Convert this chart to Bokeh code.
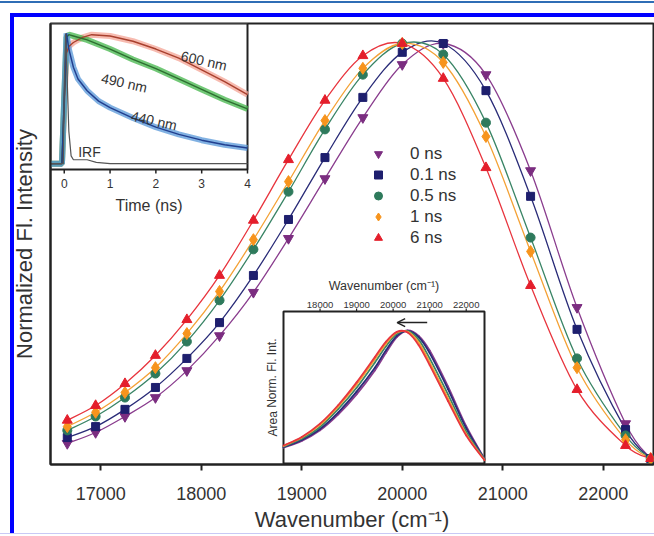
import math
from bokeh.plotting import figure
from bokeh.models import (Range1d, FixedTicker, Legend, LegendItem, Arrow, OpenHead)
from bokeh.core.properties import value
from bokeh.embed import file_html
from bokeh.resources import INLINE

# ---------------- data ----------------
WAVENUMBER = [16667, 16949, 17241, 17544, 17857, 18182, 18519, 18868, 19231,
              19608, 20000, 20408, 20833, 21277, 21739, 22222, 22472]
DELAYS = ["0 ns", "0.1 ns", "0.5 ns", "1 ns", "6 ns"]
NS0 = [0.050, 0.076, 0.114, 0.159, 0.223, 0.306, 0.409, 0.537, 0.679,
       0.824, 0.950, 1.000, 0.926, 0.698, 0.373, 0.097, 0.014]
NS01 = [0.064, 0.090, 0.131, 0.183, 0.252, 0.337, 0.449, 0.582, 0.729,
        0.872, 0.979, 1.000, 0.888, 0.637, 0.321, 0.083, 0.014]
NS05 = [0.081, 0.114, 0.159, 0.216, 0.292, 0.390, 0.511, 0.648, 0.796,
        0.926, 1.000, 0.974, 0.812, 0.539, 0.252, 0.069, 0.014]
NS1 = [0.090, 0.124, 0.171, 0.230, 0.311, 0.411, 0.534, 0.672, 0.817,
       0.941, 1.000, 0.955, 0.779, 0.506, 0.230, 0.059, 0.014]
NS6 = [0.105, 0.140, 0.192, 0.259, 0.344, 0.449, 0.580, 0.724, 0.865,
       0.971, 1.000, 0.917, 0.705, 0.425, 0.178, 0.045, 0.014]
MAIN_TICKS = [17000, 18000, 19000, 20000, 21000, 22000]

# inset 1: decays
T_600 = [-0.3, -0.05, 0.0, 0.05, 0.1, 0.2, 0.4, 0.6, 1.0, 1.5, 2.0, 2.5, 3.0, 3.5, 4.0]
I_600 = [0.0, 0.0, 0.45, 0.85, 0.90, 0.93, 0.97, 0.99, 0.98, 0.94, 0.88, 0.81, 0.72, 0.63, 0.53]
T_490 = [-0.3, -0.05, 0.0, 0.05, 0.1, 0.2, 0.5, 1.0, 1.5, 2.0, 2.5, 3.0, 3.5, 4.0]
I_490 = [0.0, 0.0, 0.5, 0.97, 0.99, 0.98, 0.95, 0.88, 0.80, 0.73, 0.65, 0.57, 0.49, 0.42]
T_440 = [-0.3, -0.05, 0.0, 0.05, 0.1, 0.2, 0.3, 0.5, 0.75, 1.0, 1.5, 2.0, 2.5, 3.0, 3.5, 4.0]
I_440 = [0.0, 0.0, 0.5, 1.0, 0.88, 0.74, 0.65, 0.56, 0.48, 0.43, 0.35, 0.28, 0.225, 0.18, 0.145, 0.12]
T_IRF = [-0.3, -0.02, 0.0, 0.03, 0.06, 0.1, 0.15, 0.2, 0.3, 0.5, 0.7, 1.0, 4.0]
I_IRF = [0.0, 0.0, 0.6, 1.0, 0.7, 0.25, 0.06, 0.03, 0.03, 0.03, 0.01, 0.0, 0.0]
TIME_TICKS = [0, 1, 2, 3, 4]
INSET1_LABELS = ["600 nm", "490 nm", "440 nm", "IRF"]
INSET1_LABEL_T = [3.05, 1.31, 1.96, 0.55]
INSET1_LABEL_V = [0.79, 0.62, 0.33, 0.09]
INSET1_LABEL_ANGLE = [-0.22, -0.22, -0.22, 0.0]

# inset 2: area-normalized spectra
WN2 = [17000, 17500, 18000, 18500, 19000, 19500, 19800, 20100, 20400, 20700,
       21000, 21500, 22000, 22500]
A0 = [0.120, 0.170, 0.250, 0.370, 0.520, 0.700, 0.830, 0.950, 1.000, 0.960,
      0.850, 0.580, 0.280, 0.035]
A01 = [0.123, 0.178, 0.260, 0.385, 0.540, 0.720, 0.850, 0.960, 0.998, 0.950,
       0.830, 0.560, 0.265, 0.033]
A05 = [0.128, 0.187, 0.275, 0.410, 0.570, 0.760, 0.880, 0.975, 0.995, 0.930,
       0.790, 0.520, 0.240, 0.030]
A1 = [0.132, 0.195, 0.290, 0.430, 0.595, 0.785, 0.900, 0.985, 0.990, 0.910,
      0.760, 0.490, 0.220, 0.027]
A6 = [0.135, 0.200, 0.300, 0.440, 0.610, 0.800, 0.915, 0.990, 0.985, 0.890,
      0.740, 0.470, 0.210, 0.025]
INSET2_TICKS = [18000, 19000, 20000, 21000, 22000]
ARROW_X = (20932, 20110)
ARROW_Y = 1.06

# ---------------- style / geometry ----------------
FONT = "Liberation Sans"
TXT = "#333333"
AX = "#222222"
MARKERS = ["inverted_triangle", "square", "circle", "diamond", "triangle"]
MSIZE = [10, 8, 9, 12, 10]
MCOL = ["#7B2D80", "#1E1F6E", "#2E7A5C", "#F7941D", "#E41E2B"]
LCOL = ["#8A3D8E", "#2A2C78", "#3A8566", "#F4A236", "#E8353E"]

W, H = 654, 536
BL, BR, BT, BB = 50, 1, 23, 72
FW = W - BL - BR
FH = H - BT - BB

X_MAIN = (16500, 22500)
Y_MAIN = (0.0, 1.0475)

# inset boxes (pixels from frame left / top)
I1_L, I1_R, I1_T, I1_B = 0, 197, 0, 146
I1_X = (-0.3, 4.0)
I1_Y = (-0.045, 1.076)
I2_L, I2_R, I2_T, I2_B = 233, 434, 288, 440
I2_X = (17000, 22500)
I2_Y = (0.0, 1.143)


def xrange_for(d, pl, pr):
    s = (d[1] - d[0]) / (pr - pl)
    start = d[0] - pl * s
    return Range1d(start, start + FW * s), s


def yrange_for(d, pt, pb):
    s = (d[1] - d[0]) / (pb - pt)
    end = d[1] + pt * s
    return Range1d(end - FH * s, end), s


def smooth(fig, xs, ys, **kw):
    """Draw a smooth curve through the points with Bokeh's bezier glyph."""
    n = len(xs)
    x0, y0, x1, y1, cx0, cy0, cx1, cy1 = ([] for _ in range(8))
    for i in range(n - 1):
        a, d = max(i - 1, 0), min(i + 2, n - 1)
        x0.append(xs[i]); y0.append(ys[i]); x1.append(xs[i + 1]); y1.append(ys[i + 1])
        cx0.append(xs[i] + (xs[i + 1] - xs[a]) / 6); cy0.append(ys[i] + (ys[i + 1] - ys[a]) / 6)
        cx1.append(xs[i + 1] - (xs[d] - xs[i]) / 6); cy1.append(ys[i + 1] - (ys[d] - ys[i]) / 6)
    return fig.bezier(x0=x0, y0=y0, x1=x1, y1=y1, cx0=cx0, cy0=cy0, cx1=cx1, cy1=cy1,
                      line_cap="round", **kw)


p = figure(width=W, height=H, x_range=Range1d(*X_MAIN), y_range=Range1d(*Y_MAIN),
           output_backend="svg", toolbar_location=None,
           min_border_left=BL, min_border_right=BR, min_border_top=BT,
           min_border_bottom=BB, background_fill_color="white",
           border_fill_alpha=0)

# decorative journal frame, painted on the page body behind the transparent border
FRAME_CSS = (
    "html, body { background-color: #ffffff; }\n"
    "body { box-shadow: inset 0 1px 0 0 #ffffff, inset 0 3px 0 0 #2F6DB5, "
    "inset 0 -2px 0 0 #ffffff, inset 0 -3px 0 0 #C9C9F5, "
    "inset 10px 13px 0 0 #ffffff, inset 14px 17px 0 0 #0000FF; }"
)
try:
    from bokeh.models import GlobalInlineStyleSheet
    p.stylesheets = [GlobalInlineStyleSheet(css=FRAME_CSS)]
except Exception:
    pass

p.grid.visible = False
p.outline_line_color = AX
p.outline_line_width = 2

r1x, s1x = xrange_for(I1_X, I1_L, I1_R)
r1y, s1y = yrange_for(I1_Y, I1_T, I1_B)
r2x, s2x = xrange_for(I2_X, I2_L, I2_R)
r2y, s2y = yrange_for(I2_Y, I2_T, I2_B)
p.extra_x_ranges = {"i1": r1x, "i2": r2x}
p.extra_y_ranges = {"i1": r1y, "i2": r2y}

# axes
xa = p.xaxis[0]
xa.ticker = FixedTicker(ticks=MAIN_TICKS)
xa.axis_label = "Wavenumber (cm\u207b\u00b9)"
xa.axis_label_text_font = FONT
xa.axis_label_text_font_style = "normal"
xa.axis_label_text_font_size = "22px"
xa.axis_label_text_color = TXT
xa.axis_label_standoff = 4
xa.major_label_text_font = FONT
xa.major_label_text_font_size = "18px"
xa.major_label_text_color = TXT
xa.major_label_standoff = 16
xa.major_tick_out = 6
xa.major_tick_in = 0
xa.major_tick_line_width = 2
xa.major_tick_line_color = AX
xa.minor_tick_line_color = None
xa.axis_line_width = 2
xa.axis_line_color = AX

ya = p.yaxis[0]
ya.ticker = FixedTicker(ticks=[])
ya.axis_label = "Normalized Fl. Intensity"
ya.axis_label_text_font = FONT
ya.axis_label_text_font_style = "normal"
ya.axis_label_text_font_size = "22px"
ya.axis_label_text_color = TXT
ya.axis_label_standoff = 14
ya.major_label_text_font_size = "0px"
ya.major_tick_line_color = None
ya.minor_tick_line_color = None
ya.axis_line_width = 2
ya.axis_line_color = AX

# main spectra
series = [NS0, NS01, NS05, NS1, NS6]
items = []
for i, ys in enumerate(series):
    smooth(p, WAVENUMBER, ys, line_color=LCOL[i], line_width=1.3)
for i, ys in enumerate(series):
    r = p.scatter(x=WAVENUMBER, y=ys, marker=MARKERS[i], size=MSIZE[i],
                  fill_color=MCOL[i], line_color=MCOL[i])
    items.append(LegendItem(label=DELAYS[i], renderers=[r]))

legend = Legend(items=items, location=(318, 216), background_fill_alpha=0,
                border_line_alpha=0, label_text_font=FONT,
                label_text_font_size="17px", label_text_color=TXT,
                glyph_width=20, glyph_height=21, label_height=21, spacing=0,
                padding=0, margin=0, label_standoff=22)
p.add_layout(legend)

# ---------------- inset 1 ----------------
k1 = dict(x_range_name="i1", y_range_name="i1")
p.quad(left=[I1_X[0]], right=[I1_X[1]], bottom=[I1_Y[0]], top=[I1_Y[1]],
       fill_color="white", line_color=AX, line_width=2, **k1)
decays = [(T_600, I_600, "#F4A496", "#A8402E"),
          (T_490, I_490, "#43B649", "#2D6E30"),
          (T_440, I_440, "#5797D8", "#213E8E")]
for t, v, band, fit in decays:
    p.line(x=t, y=v, line_color=band, line_width=6, line_alpha=0.75, **k1)
for t, v, band, fit in decays:
    p.line(x=t, y=v, line_color=fit, line_width=1.4, **k1)
p.line(x=T_IRF, y=I_IRF, line_color="#555555", line_width=1.2, **k1)
p.segment(x0=TIME_TICKS, x1=TIME_TICKS, y0=[I1_Y[0]] * len(TIME_TICKS),
          y1=[I1_Y[0] - 4 * s1y] * len(TIME_TICKS), line_color=AX, line_width=1.5, **k1)
p.text(x=TIME_TICKS, y=[I1_Y[0]] * len(TIME_TICKS), text=[str(t) for t in TIME_TICKS],
       y_offset=9, text_align="center", text_baseline="top",
       text_font=value(FONT), text_font_size=value("12px"), text_color=TXT, **k1)
p.text(x=[(I1_X[0] + I1_X[1]) / 2], y=[I1_Y[0]], text=["Time (ns)"], y_offset=36,
       text_align="center", text_baseline="middle",
       text_font=value(FONT), text_font_size=value("16px"), text_color=TXT, **k1)
p.text(x=INSET1_LABEL_T, y=INSET1_LABEL_V, text=INSET1_LABELS, angle=INSET1_LABEL_ANGLE,
       text_align="center", text_baseline="middle",
       text_font=value(FONT), text_font_size=value("14px"), text_color=TXT, **k1)

# ---------------- inset 2 ----------------
k2 = dict(x_range_name="i2", y_range_name="i2")
p.quad(left=[I2_X[0]], right=[I2_X[1]], bottom=[I2_Y[0]], top=[I2_Y[1]],
       fill_color="white", line_color=AX, line_width=2, **k2)
for i, ys in enumerate([A0, A01, A05, A1, A6]):
    smooth(p, WN2, ys, line_color=LCOL[i], line_width=1.8, **k2)
p.segment(x0=INSET2_TICKS, x1=INSET2_TICKS, y0=[I2_Y[1]] * len(INSET2_TICKS),
          y1=[I2_Y[1] + 3 * s2y] * len(INSET2_TICKS), line_color=AX, line_width=1.2, **k2)
p.text(x=INSET2_TICKS, y=[I2_Y[1]] * len(INSET2_TICKS), text=[str(t) for t in INSET2_TICKS],
       y_offset=-4, text_align="center", text_baseline="bottom",
       text_font=value(FONT), text_font_size=value("9.5px"), text_color=TXT, **k2)
p.text(x=[(I2_X[0] + I2_X[1]) / 2], y=[I2_Y[1]], text=["Wavenumber (cm\u207b\u00b9)"],
       y_offset=-26, text_align="center", text_baseline="middle",
       text_font=value(FONT), text_font_size=value("12.5px"), text_color=TXT, **k2)
p.text(x=[I2_X[0]], y=[(I2_Y[0] + I2_Y[1]) / 2], text=["Area Norm. Fl. Int."],
       x_offset=-11, angle=[math.pi / 2], text_align="center", text_baseline="middle",
       text_font=value(FONT), text_font_size=value("12px"), text_color=TXT, **k2)
p.add_layout(Arrow(end=OpenHead(size=8, line_width=1.4, line_color=AX),
                   x_start=ARROW_X[0], y_start=ARROW_Y, x_end=ARROW_X[1], y_end=ARROW_Y,
                   line_width=1.4, line_color=AX, **k2))

open("out.html", "w").write(file_html(p, INLINE))
